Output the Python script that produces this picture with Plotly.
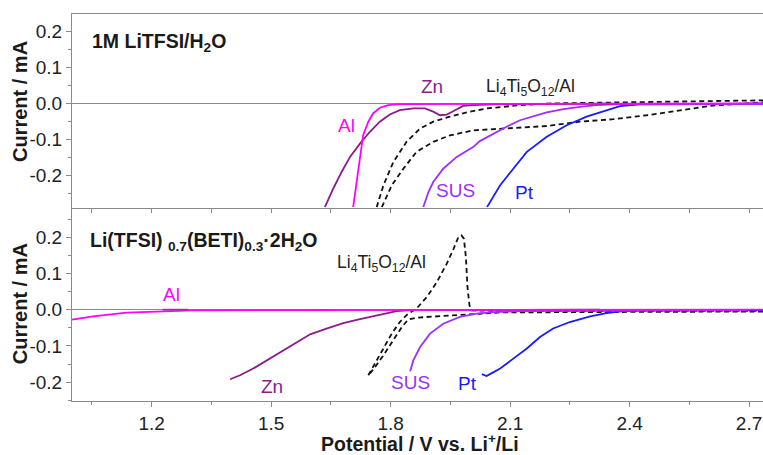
import plotly.graph_objects as go

# ---------------- Top panel: 1M LiTFSI/H2O ----------------
top_al_x = [1.706, 1.719, 1.731, 1.744, 1.756, 1.773, 1.794, 1.823, 2.075, 2.383, 2.735]
top_al_y = [-0.289, -0.182, -0.0885, -0.051, -0.028, -0.012, -0.005, -0.002, -0.001, 0.0, 0.0]

top_zn_x = [1.635, 1.656, 1.677, 1.698, 1.723, 1.748, 1.773, 1.798, 1.823, 1.857, 1.886, 1.907,
            1.924, 1.941, 1.957, 1.982, 2.008, 2.075, 2.358]
top_zn_y = [-0.289, -0.237, -0.191, -0.149, -0.112, -0.079, -0.051, -0.031, -0.019, -0.014, -0.014, -0.023,
            -0.033, -0.031, -0.022, -0.007, -0.005, -0.002, -0.001]

top_sus_x = [1.882, 1.895, 1.907, 1.932, 1.966, 2.008, 2.024, 2.058, 2.091, 2.125, 2.158, 2.192,
             2.234, 2.275, 2.317, 2.359, 2.577, 2.735]
top_sus_y = [-0.289, -0.247, -0.219, -0.182, -0.149, -0.121, -0.105, -0.084, -0.065, -0.047, -0.037, -0.025,
             -0.016, -0.0095, -0.005, -0.003, -0.002, -0.001]

top_pt_x = [2.042, 2.075, 2.108, 2.142, 2.192, 2.242, 2.292, 2.342, 2.376, 2.426, 2.577, 2.735]
top_pt_y = [-0.289, -0.228, -0.182, -0.135, -0.093, -0.061, -0.037, -0.019, -0.0075, -0.003, -0.002, -0.001]

top_lto_in_x = [1.765, 1.782, 1.807, 1.840, 1.874, 1.907, 1.949, 1.991, 2.041, 2.125, 2.208, 2.484, 2.735]
top_lto_in_y = [-0.289, -0.228, -0.163, -0.107, -0.070, -0.051, -0.037, -0.025, -0.014, -0.005, 0.0, 0.0045, 0.0085]

top_lto_out_x = [1.778, 1.803, 1.832, 1.865, 1.907, 1.949, 2.008, 2.075, 2.192, 2.275, 2.359, 2.443,
                 2.527, 2.568, 2.610, 2.694, 2.735]
top_lto_out_y = [-0.289, -0.228, -0.182, -0.135, -0.107, -0.089, -0.075, -0.070, -0.063, -0.051, -0.044, -0.033,
                 -0.019, -0.012, -0.006, 0.0, 0.003]

# ---------------- Bottom panel: Li(TFSI)0.7(BETI)0.3·2H2O ----------------
bot_al_x = [1.0, 1.053, 1.137, 1.221, 1.305, 1.572, 2.735]
bot_al_y = [-0.0275, -0.0185, -0.008, -0.004, -0.002, -0.001, 0.0]

bot_zn_seg_x = [1.228, 1.292]
bot_zn_seg_y = [0.0, 0.0]

bot_zn_x = [1.397, 1.422, 1.455, 1.497, 1.547, 1.598, 1.639, 1.681, 1.723, 1.773, 1.815, 1.857, 2.326]
bot_zn_y = [-0.192, -0.181, -0.1625, -0.135, -0.103, -0.068, -0.052, -0.037, -0.026, -0.013, -0.004, -0.0005, 0.0]

bot_sus_x = [1.849, 1.857, 1.874, 1.899, 1.932, 1.974, 2.016, 2.058, 2.125, 2.451, 2.695]
bot_sus_y = [-0.170, -0.140, -0.103, -0.066, -0.0386, -0.020, -0.011, -0.0066, -0.004, -0.003, -0.002]

bot_pt_x = [2.029, 2.041, 2.054, 2.075, 2.108, 2.142, 2.175, 2.208, 2.250, 2.301, 2.342, 2.384, 2.443, 2.735]
bot_pt_y = [-0.178, -0.183, -0.175, -0.1625, -0.135, -0.107, -0.0755, -0.052, -0.034, -0.0185, -0.0094, -0.004,
            -0.002, -0.001]

bot_lto_an_x = [1.744, 1.765, 1.786, 1.803, 1.823, 1.844, 1.865, 1.891, 1.916, 1.941, 1.958, 1.970, 1.978,
                1.984, 1.989, 1.993, 1.998, 2.003, 2.125, 2.735]
bot_lto_an_y = [-0.181, -0.140, -0.103, -0.066, -0.034, -0.011, 0.003, 0.035, 0.076, 0.127, 0.168, 0.200, 0.205,
                0.196, 0.145, 0.062, 0.012, -0.002, -0.004, -0.003]

bot_lto_ca_x = [2.735, 2.326, 2.075, 1.865, 1.844, 1.828, 1.807, 1.782, 1.761, 1.748]
bot_lto_ca_y = [-0.005, -0.0075, -0.0075, -0.022, -0.0275, -0.048, -0.0846, -0.126, -0.158, -0.176]

# ---------------- axis ticks ----------------
x_tickvals = [1.2, 1.5, 1.8, 2.1, 2.4, 2.7]
x_ticktext = ["1.2", "1.5", "1.8", "2.1", "2.4", "2.7"]
x_minorvals = [1.05, 1.35, 1.65, 1.95, 2.25, 2.55]
y_tickvals = [-0.2, -0.1, 0.0, 0.1, 0.2]
y_ticktext = ["-0.2", "-0.1", "0.0", "0.1", "0.2"]
y_minorvals = [-0.25, -0.15, -0.05, 0.05, 0.15, 0.25]

C_AL = "#ff00ff"
C_ZN = "#8a1c8a"
C_SUS = "#9b30ff"
C_PT = "#1a1aff"
C_LTO = "#111111"
AX = "#8a8a8a"
FONT = "Arial, Liberation Sans, sans-serif"

fig = go.Figure()


def add(x, y, color, xa, ya, dash=None, width=1.8):
    fig.add_trace(go.Scatter(x=x, y=y, mode="lines", xaxis=xa, yaxis=ya,
                             line=dict(color=color, width=width, dash=dash),
                             hoverinfo="skip", showlegend=False))


DASH = "5px,3.5px"
# top
add(top_lto_in_x, top_lto_in_y, C_LTO, "x2", "y2", DASH, 1.8)
add(top_lto_out_x, top_lto_out_y, C_LTO, "x2", "y2", DASH, 1.8)
add(top_pt_x, top_pt_y, C_PT, "x2", "y2")
add(top_sus_x, top_sus_y, C_SUS, "x2", "y2")
add(top_zn_x, top_zn_y, C_ZN, "x2", "y2")
add(top_al_x, top_al_y, C_AL, "x2", "y2")
# bottom
add(bot_lto_an_x, bot_lto_an_y, C_LTO, "x", "y", DASH, 1.8)
add(bot_lto_ca_x, bot_lto_ca_y, C_LTO, "x", "y", DASH, 1.8)
add(bot_pt_x, bot_pt_y, C_PT, "x", "y")
add(bot_sus_x, bot_sus_y, C_SUS, "x", "y")
add(bot_zn_x, bot_zn_y, C_ZN, "x", "y")
add(bot_al_x, bot_al_y, C_AL, "x", "y")
add(bot_zn_seg_x, bot_zn_seg_y, "#a0309c", "x", "y")

tickfont = dict(family=FONT, size=19, color="#222222")
common_y = dict(tickmode="array", tickvals=y_tickvals, ticktext=y_ticktext, ticks="outside",
                ticklen=5, tickcolor=AX, showline=True, linecolor=AX, linewidth=1,
                showgrid=False, zeroline=True, zerolinecolor=AX, zerolinewidth=1,
                tickfont=tickfont,
                minor=dict(tickmode="array", tickvals=y_minorvals, ticks="outside",
                           ticklen=3, tickcolor=AX))

fig.update_layout(
    width=763, height=455,
    margin=dict(l=72, r=0, t=14, b=54),
    paper_bgcolor="white", plot_bgcolor="white",
    font=dict(family=FONT, color="#222222"),
    xaxis=dict(domain=[0, 1], anchor="y", range=[1.0, 2.735], tickmode="array",
               tickvals=x_tickvals, ticktext=x_ticktext, ticks="outside", ticklen=5,
               tickcolor=AX, showline=True, linecolor=AX, linewidth=1, showgrid=False,
               zeroline=False, tickfont=tickfont,
               minor=dict(tickmode="array", tickvals=x_minorvals, ticks="outside",
                          ticklen=3, tickcolor=AX)),
    xaxis2=dict(domain=[0, 1], anchor="y2", matches="x", range=[1.0, 2.735],
                tickmode="array", tickvals=x_tickvals + x_minorvals, showticklabels=False,
                ticks="outside", ticklen=4, tickcolor=AX, showline=True, mirror=True,
                linecolor=AX, linewidth=1, showgrid=False, zeroline=False),
    yaxis=dict(domain=[0, 0.5], anchor="x", range=[-0.252, 0.282], **common_y),
    yaxis2=dict(domain=[0.5, 1], anchor="x2", range=[-0.29, 0.249], **common_y),
)

ann = []


def label(text, x, y, color, size=19, xref="x", yref="y", bold=False, xanchor="center"):
    t = f"<b>{text}</b>" if bold else text
    ann.append(dict(text=t, x=x, y=y, xref=xref, yref=yref, showarrow=False,
                    xanchor=xanchor, yanchor="middle",
                    font=dict(family=FONT, size=size, color=color)))


# panel titles
label("1M LiTFSI/H<sub>2</sub>O", 1.045, 0.169, "#1a1a1a", 19.5, "x2", "y2", True, "left")
label("Li(TFSI) <sub>0.7</sub>(BETI)<sub>0.3</sub>·2H<sub>2</sub>O", 1.04, 0.188, "#1a1a1a", 19.5,
      "x", "y", True, "left")
# top curve labels
label("Al", 1.688, -0.061, C_AL, 19, "x2", "y2")
label("Zn", 1.904, 0.046, C_ZN, 19, "x2", "y2")
label("Li<sub>4</sub>Ti<sub>5</sub>O<sub>12</sub>/Al", 2.15, 0.043, "#222222", 17.5, "x2", "y2")
label("SUS", 1.962, -0.242, C_SUS, 19, "x2", "y2")
label("Pt", 2.137, -0.248, C_PT, 19, "x2", "y2")
# bottom curve labels
label("Al", 1.251, 0.042, C_AL, 19)
label("Zn", 1.502, -0.211, C_ZN, 19)
label("Li<sub>4</sub>Ti<sub>5</sub>O<sub>12</sub>/Al", 1.778, 0.127, "#222222", 17.5)
label("SUS", 1.849, -0.202, C_SUS, 19)
label("Pt", 1.992, -0.203, C_PT, 19)

# axis titles
label("Current / mA", -0.0753, 0.775, "#1a1a1a", 20, "paper", "paper", True)
ann[-1]["textangle"] = -90
label("Current / mA", -0.0753, 0.2527, "#1a1a1a", 20, "paper", "paper", True)
ann[-1]["textangle"] = -90
label("Potential / V vs. Li<sup>+</sup>/Li", 0.5036, -0.109, "#1a1a1a", 19.5, "paper", "paper", True)

fig.update_layout(annotations=ann)

fig.write_html("out.html",
               config={"displayModeBar": False},
               post_script="document.body.style.margin='0';document.body.style.padding='0';"
                           "document.body.style.overflow='hidden';")
